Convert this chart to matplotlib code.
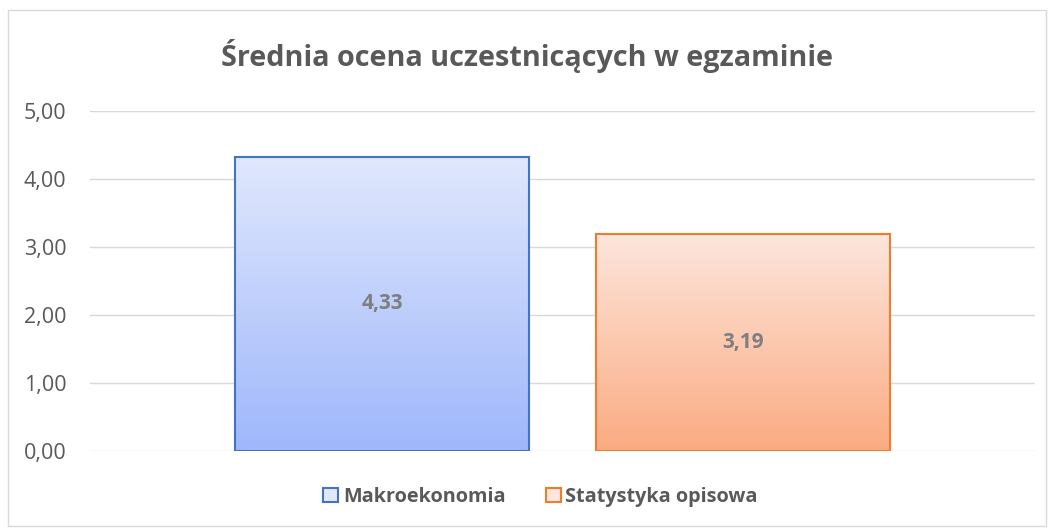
# średnia ocena - wykres słupkowy

import numpy as np
import matplotlib.pyplot as plt
from matplotlib.patches import Rectangle
from matplotlib.colors import LinearSegmentedColormap

plt.rcParams['font.family'] = ['Open Sans', 'DejaVu Sans']

subjects = ["Makroekonomia", "Statystyka opisowa"]
means = [4.33, 3.19]
y_ticks = [0, 1, 2, 3, 4, 5]
tick_labels = ["0,00", "1,00", "2,00", "3,00", "4,00", "5,00"]

edge_colors = ["#4472c4", "#ed7d31"]
grad_colors = [("#9fb7fb", "#e0e8fd"), ("#fbab82", "#fde6dc")]
txt_gray = "#595959"

fig = plt.figure(figsize=(10.54, 5.30), dpi=100)
ax = fig.add_axes([90 / 1054, 79 / 530, 945 / 1054, 340 / 530])

x = np.arange(len(subjects))
width = 0.812
bars = ax.bar(x, means, width=width, color="none", zorder=3)

grad = np.linspace(0, 1, 256).reshape(-1, 1)
for b, ec, (c0, c1), lab in zip(bars, edge_colors, grad_colors, subjects):
    cmap = LinearSegmentedColormap.from_list("g", [c0, c1])
    x0, y0 = b.get_x(), b.get_y()
    w, h = b.get_width(), b.get_height()
    im = ax.imshow(grad, cmap=cmap, aspect="auto", origin="lower",
                   extent=[x0, x0 + w, y0, y0 + h], zorder=2)
    im.set_clip_path(b)
    ax.add_patch(Rectangle((x0, y0), w, h, fill=False, edgecolor=ec,
                           linewidth=1.5, zorder=4))
    ax.text(x0 + w / 2, h / 2, f"{h:.2f}".replace(".", ","), ha="center",
            va="center", fontsize=15, fontweight="bold", color="#7f7f7f",
            zorder=5)

ax.set_xlim(-0.809, 1.809)
ax.set_ylim(0, 5)
ax.set_yticks(y_ticks)
ax.set_yticklabels(tick_labels)
ax.set_xticks([])
ax.tick_params(axis="y", length=0, pad=17, labelsize=15.5, labelcolor=txt_gray)
ax.yaxis.grid(True, color="#d9d9d9", linewidth=1, zorder=0)
ax.set_axisbelow(True)
for s in ax.spines.values():
    s.set_visible(False)

fig.text(0.5, 0.895, "Średnia ocena uczestnicących w egzaminie", ha="center",
         va="center", fontsize=20.8, fontweight="bold", color=txt_gray)

handles = [Rectangle((0, 0), 1, 1, facecolor=c1, edgecolor=ec, linewidth=1.5)
           for ec, (c0, c1) in zip(edge_colors, grad_colors)]
leg = fig.legend(handles, subjects, loc="center", bbox_to_anchor=(0.513, 0.062),
                 ncol=2, frameon=False, handlelength=0.75, handleheight=0.75,
                 handletextpad=0.25, columnspacing=2.0,
                 prop={"size": 14.3, "weight": "bold"})
for t in leg.get_texts():
    t.set_color(txt_gray)

fig.patches.append(Rectangle((8 / 1054, 4 / 530), 1038 / 1054, 516 / 530,
                             transform=fig.transFigure, fill=False,
                             edgecolor="#d9d9d9", linewidth=1))

fig.savefig("out.png", dpi=100)
